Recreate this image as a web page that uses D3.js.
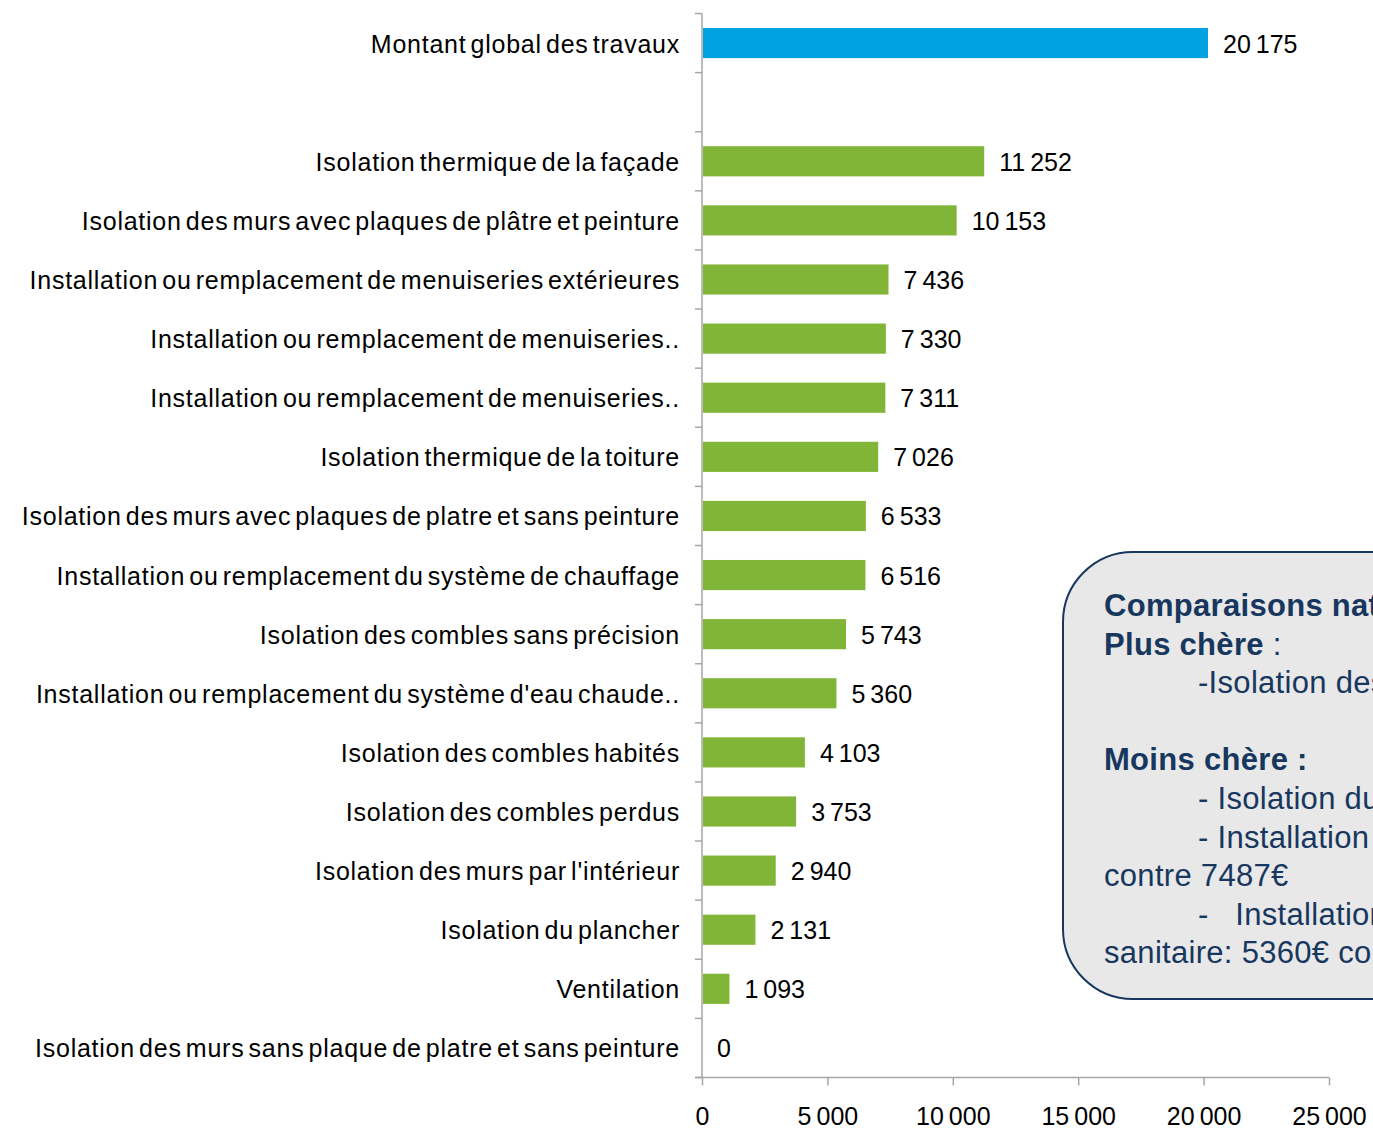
<!DOCTYPE html>
<html>
<head>
<meta charset="utf-8">
<script src="https://cdn.jsdelivr.net/npm/d3@7"></script>
<style>
  body { margin: 0; background: #fff; overflow: hidden; }
  svg { display: block; }
  text { font-family: "Liberation Sans", Arial, sans-serif; }
</style>
</head>
<body>
<div id="chart"></div>
<script>
const width = 1373,
    height = 1130;

// one row per slot, the second slot is left empty in the original
const categories = [
    "Montant global des travaux",
    "",
    "Isolation thermique de la façade",
    "Isolation des murs avec plaques de plâtre et peinture",
    "Installation ou remplacement de menuiseries extérieures",
    "Installation ou remplacement de menuiseries..",
    "Installation ou remplacement de menuiseries..",
    "Isolation thermique de la toiture",
    "Isolation des murs avec plaques de platre et sans peinture",
    "Installation ou remplacement du système de chauffage",
    "Isolation des combles sans précision",
    "Installation ou remplacement du système d'eau chaude..",
    "Isolation des combles habités",
    "Isolation des combles perdus",
    "Isolation des murs par l'intérieur",
    "Isolation du plancher",
    "Ventilation",
    "Isolation des murs sans plaque de platre et sans peinture"
];
const values = [20175, null, 11252, 10153, 7436, 7330, 7311, 7026, 6533, 6516, 5743, 5360, 4103, 3753, 2940, 2131, 1093, 0];
const xTicks = [0, 5000, 10000, 15000, 20000, 25000];

// note text, it runs past the right edge of the page in the original
const noteLines = [
    {text: "Comparaisons nationales :", bold: true, indent: 0},
    {text: "Plus chère", bold: true, indent: 0, tail: " :"},
    {text: "-Isolation des murs", bold: false, indent: 1},
    {text: "", bold: false, indent: 0},
    {text: "Moins chère :", bold: true, indent: 0},
    {text: "- Isolation du plancher", bold: false, indent: 1},
    {text: "- Installation ou", bold: false, indent: 1},
    {text: "contre 7487€", bold: false, indent: 0},
    {text: "-   Installation ou", bold: false, indent: 1},
    {text: "sanitaire: 5360€ contre", bold: false, indent: 0}
];

const rows = categories.map((c, i) => ({id: i, name: c, value: values[i]}));

const fmt = v => d3.format(",")(v).replace(/,/g, "\u202F");

const svg = d3.select("#chart").append("svg")
    .attr("width", width)
    .attr("height", height);

const x = d3.scaleLinear().domain([0, 25000]).range([702, 1329]);
const y = d3.scaleBand().domain(rows.map(d => d.id)).range([13.5, 1077.5]).paddingInner(0.49).paddingOuter(0.245);

const axisColor = "#a6a6a6";

// y axis line + ticks at band boundaries
svg.append("line")
    .attr("x1", x(0)).attr("x2", x(0))
    .attr("y1", 13.5).attr("y2", 1077.5)
    .attr("stroke", axisColor).attr("stroke-width", 1.5);

const step = y.step();
const bounds = d3.range(rows.length + 1).map(i => 13.5 + i * step);
svg.selectAll(".ytick").data(bounds).enter().append("line")
    .attr("x1", x(0) - 7).attr("x2", x(0))
    .attr("y1", d => d).attr("y2", d => d)
    .attr("stroke", axisColor).attr("stroke-width", 1.5);

// x axis
const xAxis = svg.append("g")
    .attr("transform", "translate(0,1077.5)")
    .call(d3.axisBottom(x).tickValues(xTicks).tickSize(8).tickSizeOuter(0).tickFormat(fmt).tickPadding(22));
xAxis.select(".domain").attr("stroke", axisColor).attr("stroke-width", 1.5)
    .attr("d", "M" + (x(0) - 7) + ",0H" + x(25000));
xAxis.selectAll(".tick line").attr("stroke", axisColor).attr("stroke-width", 1.5);
xAxis.selectAll(".tick text").attr("font-size", 25).attr("fill", "#000")
    .attr("font-family", "Liberation Sans, Arial, sans-serif");

// bars
svg.selectAll(".bar").data(rows.filter(d => d.value !== null)).enter().append("rect")
    .attr("x", x(0) + 1)
    .attr("y", d => y(d.id))
    .attr("width", d => Math.max(0, x(d.value) - x(0) - 1))
    .attr("height", y.bandwidth())
    .attr("fill", d => d.id === 0 ? "#00a3e0" : "#80b537");

// value labels
svg.selectAll(".val").data(rows.filter(d => d.value !== null)).enter().append("text")
    .attr("x", d => x(d.value) + 15)
    .attr("y", d => y(d.id) + y.bandwidth() / 2)
    .attr("dy", "0.38em")
    .attr("font-size", 25)
    .text(d => fmt(d.value));

// category labels
svg.selectAll(".cat").data(rows.filter(d => d.name)).enter().append("text")
    .attr("x", 680)
    .attr("y", d => y(d.id) + y.bandwidth() / 2)
    .attr("dy", "0.38em")
    .attr("text-anchor", "end")
    .attr("font-size", 25)
    .attr("letter-spacing", 0.75)
    .attr("word-spacing", -3.5)
    .text(d => d.name);

// note box on the right, running past the page edge
const box = svg.append("g");
box.append("rect")
    .attr("x", 1063).attr("y", 552)
    .attr("width", 500).attr("height", 447)
    .attr("rx", 70).attr("ry", 70)
    .attr("fill", "#e8e8e8")
    .attr("stroke", "#17375e").attr("stroke-width", 2);

const note = box.append("text")
    .attr("fill", "#17375e")
    .attr("font-size", 31)
    .attr("letter-spacing", 0.3)
    .style("white-space", "pre");
noteLines.forEach((l, i) => {
    note.append("tspan")
        .attr("x", 1104 + l.indent * 94)
        .attr("y", 616 + i * 38.6)
        .attr("font-weight", l.bold ? "bold" : "normal")
        .text(l.text);
    if (l.tail) {
        note.append("tspan").attr("font-weight", "normal").text(l.tail);
    }
});
</script>
</body>
</html>
